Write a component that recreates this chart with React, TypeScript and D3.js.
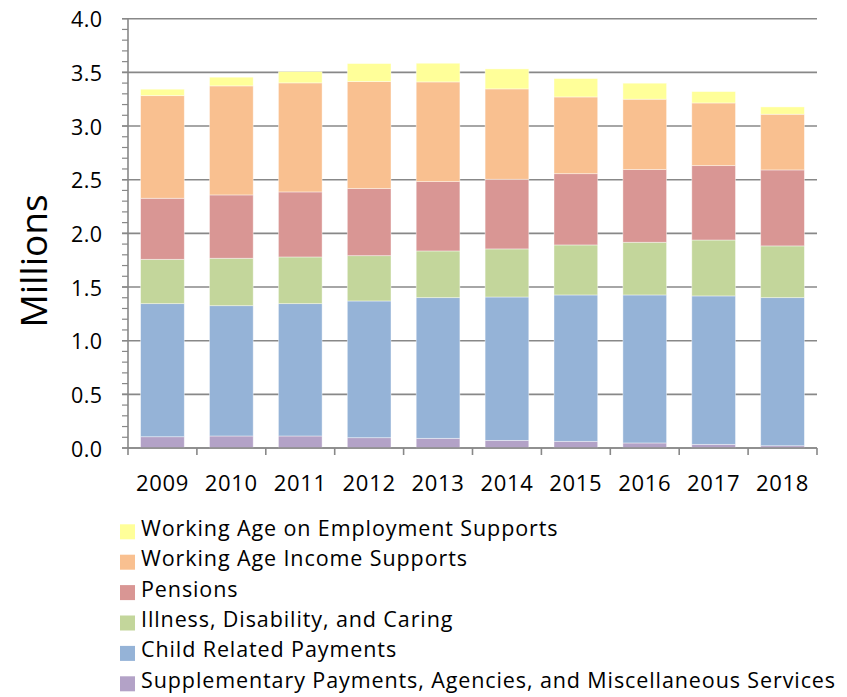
import React from "react";
import * as d3 from "d3";

const years = ["2009", "2010", "2011", "2012", "2013", "2014", "2015", "2016", "2017", "2018"];
const supplementary = [0.105, 0.112, 0.112, 0.096, 0.09, 0.071, 0.062, 0.047, 0.034, 0.021];
const childRelated = [1.24, 1.214, 1.233, 1.274, 1.311, 1.336, 1.364, 1.379, 1.383, 1.38];
const illness = [0.413, 0.442, 0.435, 0.422, 0.435, 0.448, 0.466, 0.491, 0.521, 0.482];
const pensions = [0.569, 0.59, 0.606, 0.625, 0.646, 0.649, 0.664, 0.677, 0.693, 0.708];
const incomeSupports = [0.956, 1.016, 1.016, 0.997, 0.929, 0.842, 0.715, 0.656, 0.584, 0.519];
const employmentSupports = [0.06, 0.081, 0.105, 0.168, 0.174, 0.186, 0.171, 0.149, 0.106, 0.068];
const yTicks = [0, 0.5, 1.0, 1.5, 2.0, 2.5, 3.0, 3.5, 4.0];

const seriesNames = [
  "Supplementary Payments, Agencies, and Miscellaneous Services",
  "Child Related Payments",
  "Illness, Disability, and Caring",
  "Pensions",
  "Working Age Income Supports",
  "Working Age on Employment Supports",
];
const seriesValues = [supplementary, childRelated, illness, pensions, incomeSupports, employmentSupports];
const colors = ["#B3A2C7", "#95B3D7", "#C3D69B", "#D99694", "#F9C090", "#FFFF99"];

const W = 847;
const H = 697;
const left = 128;
const right = 817;
const top = 18.7;
const bottom = 448;
const FONT = "'Open Sans', sans-serif";

export default function App() {
  const x = d3.scaleBand<string>().domain(years).range([left, right]).paddingInner(0.366).paddingOuter(0.183);
  const y = d3.scaleLinear().domain([0, 4]).range([bottom, top]);
  const rows = years.map((yr, i) => {
    const r: any = { year: yr };
    seriesNames.forEach((n, k) => (r[n] = seriesValues[k][i]));
    return r;
  });
  const stacked = d3.stack<any>().keys(seriesNames)(rows);
  const minorTicks = d3.range(0, 41).map((d) => d / 10);
  const step = x.step();
  const boundaries = d3.range(0, years.length + 1).map((i) => left + i * step);
  const legendOrder = [5, 4, 3, 2, 1, 0];

  return (
    <svg width={W} height={H} style={{ position: "absolute", left: 0, top: 0, background: "#fff" }} fontFamily={FONT}>
      {yTicks.map((t) => (
        <line key={"g" + t} x1={left - 6} x2={right} y1={y(t)} y2={y(t)} stroke="#888888" strokeWidth={1.6} />
      ))}
      {minorTicks.map((t, i) => (
        <line key={"m" + i} x1={left - 6} x2={left} y1={y(t)} y2={y(t)} stroke="#888888" strokeWidth={1.2} />
      ))}
      {stacked.map((s, k) => (
        <g key={s.key} fill={colors[k]}>
          {s.map((d, i) => (
            <rect
              key={i}
              x={x(years[i])}
              width={x.bandwidth()}
              y={y(d[1])}
              height={y(d[0]) - y(d[1])}
              stroke="#ffffff"
              strokeOpacity={0.5}
              strokeWidth={0.8}
            />
          ))}
        </g>
      ))}
      <line x1={left} x2={left} y1={top} y2={bottom} stroke="#888888" strokeWidth={1.6} />
      <line x1={left} x2={right} y1={bottom} y2={bottom} stroke="#888888" strokeWidth={1.6} />
      {boundaries.map((b, i) => (
        <line key={"xt" + i} x1={b} x2={b} y1={bottom} y2={bottom + 7} stroke="#888888" strokeWidth={1.6} />
      ))}
      {yTicks.map((t) => (
        <text key={"yl" + t} x={102.5} y={y(t) + 8.6} textAnchor="end" fontSize={21.5} letterSpacing={0.4} fill="#000">
          {d3.format(".1f")(t)}
        </text>
      ))}
      {years.map((yr) => (
        <text
          key={"xl" + yr}
          x={(x(yr) as number) + x.bandwidth() / 2}
          y={490.7}
          textAnchor="middle"
          fontSize={22}
          letterSpacing={0.7}
          fill="#000"
        >
          {yr}
        </text>
      ))}
      <text transform={`translate(46.5,261) rotate(-90)`} textAnchor="middle" fontSize={37} fill="#000">
        Millions
      </text>
      {legendOrder.map((k, j) => {
        const base = 535.7 + j * 30.4;
        return (
          <g key={"lg" + k}>
            <rect x={120} y={base - 11.4} width={15} height={15} fill={colors[k]} />
            <text x={141} y={base} fontSize={21.5} letterSpacing={0.9} fill="#000">
              {seriesNames[k]}
            </text>
          </g>
        );
      })}
    </svg>
  );
}
